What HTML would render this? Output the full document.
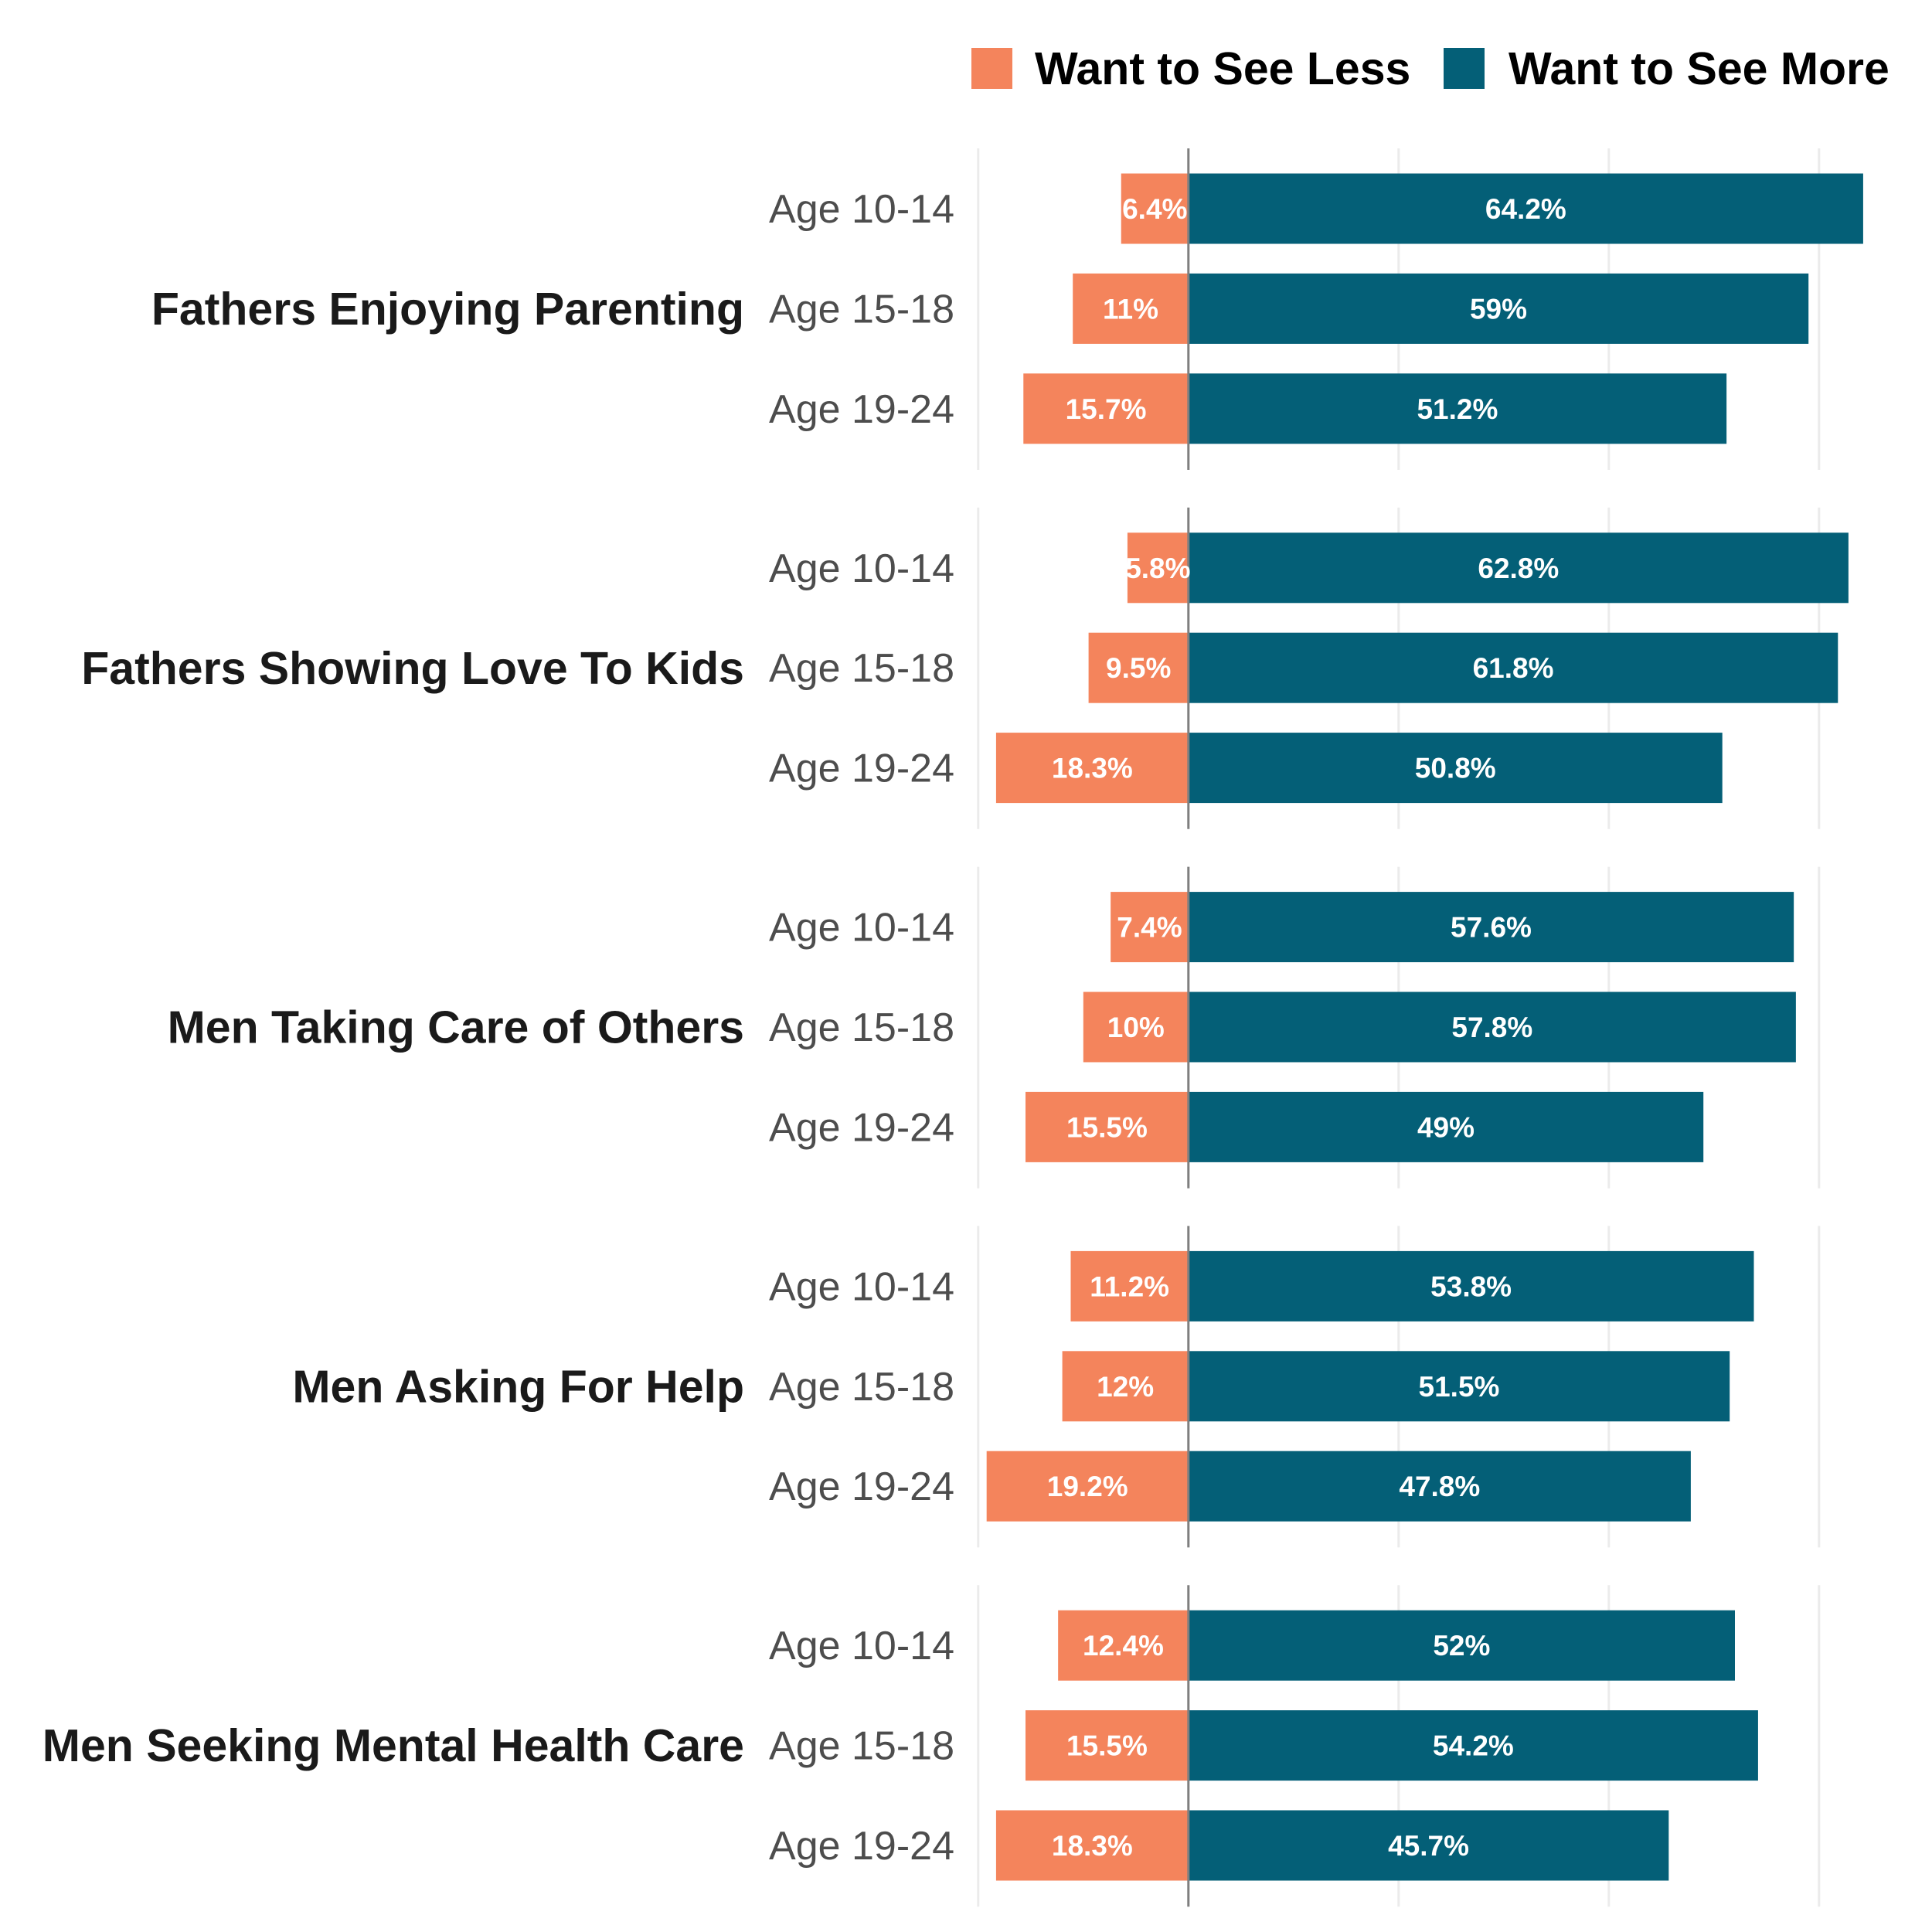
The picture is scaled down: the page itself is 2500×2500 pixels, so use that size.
<!DOCTYPE html>
<html><head><meta charset="utf-8">
<style>
html,body{margin:0;padding:0;background:#fff;}
svg{display:block;font-family:"Liberation Sans",Arial,sans-serif;}
</style></head>
<body>
<svg id="chart" width="2500" height="2500" viewBox="0 0 2500 2500">
  <g>
    <rect x="1257" y="62" width="53" height="53" fill="#F4845C"/>
    <text x="1339" y="109" font-size="59" font-weight="bold" fill="#000">Want to See Less</text>
    <rect x="1868" y="62" width="53" height="53" fill="#045F77"/>
    <text x="1952" y="109" font-size="59" font-weight="bold" fill="#000">Want to See More</text>
  </g>
  <g id="panels"></g>
</svg>
<script>
const groups = ["Fathers Enjoying Parenting","Fathers Showing Love To Kids","Men Taking Care of Others","Men Asking For Help","Men Seeking Mental Health Care"];
const ages = ["Age 10-14","Age 15-18","Age 19-24"];
const lessValues = [[6.4,11,15.7],[5.8,9.5,18.3],[7.4,10,15.5],[11.2,12,19.2],[12.4,15.5,18.3]];
const moreValues = [[64.2,59,51.2],[62.8,61.8,50.8],[57.6,57.8,49],[53.8,51.5,47.8],[52,54.2,45.7]];
const gridTicks = [-20,0,20,40,60];

const NS="http://www.w3.org/2000/svg";
const root=document.getElementById('panels');
const x0=1537.8, pxPer=13.6;
function xs(v){return x0+v*pxPer;}
const panelTop0=192, panelStep=464.8, panelH=416, barH=91;
function barY(g,i){return panelTop0+g*panelStep+78+i*129.4;}
function mk(tag,attrs,parent){const e=document.createElementNS(NS,tag);for(const k in attrs)e.setAttribute(k,attrs[k]);parent.appendChild(e);return e;}
function fmt(v){return v+'%';}

groups.forEach((gname,g)=>{
  const pg=mk('g',{},root);
  
  
  const top=panelTop0+g*panelStep;
  gridTicks.forEach(t=>{
    const l=mk('line',{x1:xs(t),x2:xs(t),y1:top,y2:top+panelH,stroke:t===0?'#7f7f7f':'#ebebeb','stroke-width':3},pg);
    
    
  });
  const gl=mk('text',{x:963,y:top+207+21,'text-anchor':'end','font-size':59,'font-weight':'bold',fill:'#1a1a1a'},pg);
  gl.textContent=gname;
  
  
  ages.forEach((a,i)=>{
    const cy=barY(g,i);
    const al=mk('text',{x:1235,y:cy+18,'text-anchor':'end','font-size':52,fill:'#4d4d4d'},pg);
    al.textContent=a;
    
    
    const lv=lessValues[g][i], mv=moreValues[g][i];
    const rl=mk('rect',{x:xs(-lv),y:cy-barH/2,width:xs(0)-xs(-lv),height:barH,fill:'#F4845C'},pg);
    
    
    const rm=mk('rect',{x:xs(0),y:cy-barH/2,width:xs(mv)-xs(0),height:barH,fill:'#045F77'},pg);
    
    
    const zl=mk('line',{x1:xs(0),x2:xs(0),y1:cy-barH/2,y2:cy+barH/2,stroke:'#7f7f7f','stroke-width':3},pg);
    
    
    const tl=mk('text',{x:(xs(-lv)+xs(0))/2,y:cy+13,'text-anchor':'middle','font-size':37,'font-weight':'bold',fill:'#fff'},pg);
    tl.textContent=fmt(lv);
    
    
    const tm=mk('text',{x:(xs(0)+xs(mv))/2,y:cy+13,'text-anchor':'middle','font-size':37,'font-weight':'bold',fill:'#fff'},pg);
    tm.textContent=fmt(mv);
    
    
  });
});
</script>
</body></html>
